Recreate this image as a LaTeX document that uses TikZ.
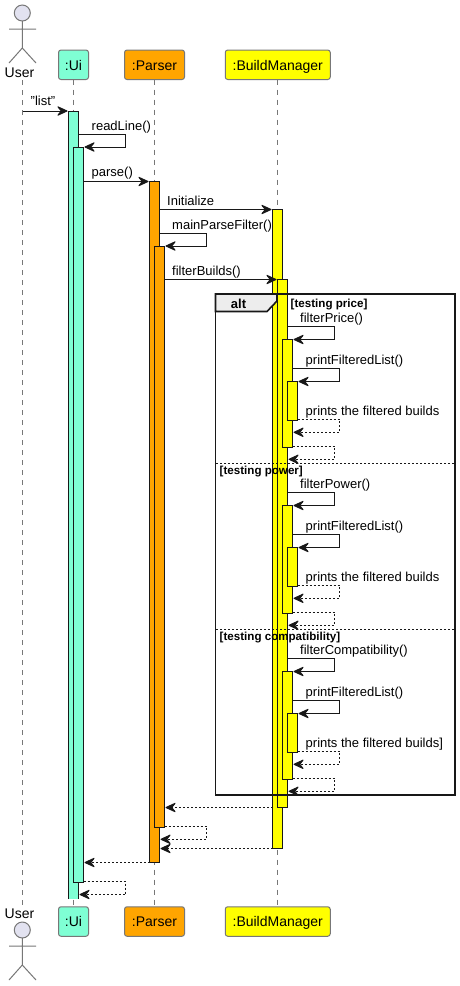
\documentclass[tikz,border=0pt]{standalone}
\usepackage{fontspec}
\setmainfont{Liberation Sans}
\usetikzlibrary{arrows.meta}
\definecolor{uicol}{HTML}{7FFFD4}
\definecolor{parsecol}{HTML}{FFA500}
\definecolor{bmcol}{HTML}{FFFF00}
\definecolor{actcol}{HTML}{E2E2F0}
\definecolor{edgecol}{HTML}{777777}
\definecolor{inkcol}{HTML}{181818}
\tikzset{
  part/.style={draw=edgecol,line width=1pt,rounded corners=2.5pt,inner sep=0pt,outer sep=0pt,minimum height=29.5pt,font=\fontsize{14}{16}\selectfont,text height=10.5pt,text depth=0pt},
  barbox/.style={draw=inkcol,line width=1pt,minimum width=10pt,inner sep=0pt,outer sep=0pt},
  life/.style={draw=edgecol,line width=0.8pt,dash pattern=on 5pt off 5pt},
  msg/.style={draw=inkcol,line width=1pt,-{Stealth[length=12pt,width=11pt,inset=4.5pt,fill=inkcol,round]}},
  ret/.style={msg,dash pattern=on 2pt off 2pt},
  lbl/.style={inner sep=0pt,anchor=base west,font=\fontsize{13}{15}\selectfont},
  guard/.style={inner sep=0pt,anchor=base west,font=\fontsize{11.6}{14}\selectfont\bfseries},
  actorline/.style={draw=edgecol,line width=1pt,fill=actcol},
  framel/.style={draw=inkcol,line width=1.6pt},
  divider/.style={draw=inkcol,line width=0.8pt,dash pattern=on 2pt off 2pt},
}
\newcommand{\actbar}[5]{\node[barbox,fill=#5,minimum height={(#4)-(#3)}] (#1) at (#2,{((#3)+(#4))/2}) {};}
\newcommand{\actorfig}[1]{%
  \draw[actorline] (22.3,#1) circle (8pt);
  \draw[actorline,fill=none] (22.3,#1+8) -- (22.3,#1+35) (9,#1+16) -- (36,#1+16)
    (9,#1+50) -- (22.3,#1+35) -- (36,#1+50);}
\begin{document}
\begin{tikzpicture}[x=1pt,y=-1pt]
\useasboundingbox (0,0) rectangle (460,986);
\fill[white] (0,0) rectangle (460,986);
% participants
\node[inner sep=0pt,anchor=base,font=\fontsize{14}{16}\selectfont] (usr) at (19.5,77) {User};
\node[inner sep=0pt,anchor=base,font=\fontsize{14}{16}\selectfont] (usrb) at (19.5,918.5) {User};
\node[part,fill=uicol,minimum width=30pt] (ui) at (73.5,64.75) {:Ui};
\node[part,fill=parsecol,minimum width=60pt] (pa) at (154.5,64.75) {:Parser};
\node[part,fill=bmcol,minimum width=105pt] (bm) at (277.75,64.75) {:BuildManager};
\node[part,fill=uicol,minimum width=30pt] (uib) at (73.5,921.5) {:Ui};
\node[part,fill=parsecol,minimum width=60pt] (pab) at (154.5,921.5) {:Parser};
\node[part,fill=bmcol,minimum width=105pt] (bmb) at (277.75,921.5) {:BuildManager};
\actorfig{13}
\actorfig{930}
% lifelines
\coordinate (ustart) at (22.5,111);
\draw[life] (22.5,80) -- (22.5,906);
\draw[life] (ui.south) -- (uib.north);
\draw[life] (pa.south) -- (pab.north);
\draw[life] (277.5,79.5) -- (277.5,906.75);
% activation bars
\node[inner sep=0pt,outer sep=0pt,fill=uicol,minimum width=10pt,minimum height=788pt] (a1) at (73.5,505) {};
\draw[inkcol,line width=1pt] (a1.south west) -- (a1.north west) -- (a1.north east) -- (a1.south east);
\actbar{a2}{78.5}{147}{882.5}{uicol}
\actbar{p1}{154.5}{181.5}{862.5}{parsecol}
\actbar{p2}{159.5}{246}{827.5}{parsecol}
\actbar{b1}{277.5}{209.5}{848.5}{bmcol}
\actbar{b2}{282.5}{279.5}{807.5}{bmcol}
\foreach \o/\k in {0/x,166/y,332/z}{
  \actbar{c\k}{287.5}{339.5+\o}{447.3+\o}{bmcol}
  \actbar{d\k}{292.5}{381.5+\o}{420.3+\o}{bmcol}
}
% alt frame
\draw[framel,fill=black!7] (215.5,294) -- (277,294) -- (277,301) -- (267,311.5) -- (215.5,311.5) -- cycle;
\draw[framel] (215.5,294) rectangle (455,795);
\node[inner sep=0pt,anchor=base,font=\fontsize{13}{15}\selectfont\bfseries] (altl) at (238.5,308) {alt};
\draw[divider] (216,463.3) -- (455,463.3);
\draw[divider] (216,629.3) -- (455,629.3);
\node[guard] (g1) at (290.5,307) {[testing price]};
\node[guard] (g2) at (219.5,474) {[testing power]};
\node[guard] (g3) at (219.5,640) {[testing compatibility]};
% top-level messages
\draw[msg] (ustart) -- ([xshift=-1pt]a1.north west);
\node[lbl] at (30.5,105) {"list"};
\draw[msg] (78.5,134.5) -- (125.5,134.5) |- ([xshift=1pt]a2.north east);
\node[lbl] at (91.5,130) {readLine()};
\draw[msg] (a2.east |- p1.north) -- ([xshift=-1pt]p1.north west);
\node[lbl] at (91.5,176.5) {parse()};
\draw[msg] (p1.east |- b1.north) -- ([xshift=-1pt]b1.north west);
\node[lbl] at (167,205) {Initialize};
\draw[msg] (159.5,233.5) -- (206.5,233.5) |- ([xshift=1pt]p2.north east);
\node[lbl] at (172,229) {mainParseFilter()};
\draw[msg] (p2.east |- b2.north) -- ([xshift=-1pt]b2.north west);
\node[lbl] at (172,275) {filterBuilds()};
% inner messages
\foreach \o/\k/\fn/\pr in {0/x/{filterPrice()}/{prints the filtered builds},166/y/{filterPower()}/{prints the filtered builds},332/z/{filterCompatibility()}/{prints the filtered builds]}}{
  \draw[msg] (287.5,326.4+\o) -- (334.5,326.4+\o) |- ([xshift=1pt]c\k.north east);
  \node[lbl] at (300,322+\o) {\fn};
  \draw[msg] (292.5,368.4+\o) -- (339.5,368.4+\o) |- ([xshift=1pt]d\k.north east);
  \node[lbl] at (305.5,364+\o) {printFilteredList()};
  \draw[ret] (297.5,419+\o) -- (339.5,419+\o) |- ([xshift=1pt]c\k.east |- 0,432.3+\o);
  \node[lbl] at (305.5,415+\o) {\pr};
  \draw[ret] (292.5,446+\o) -- (334.5,446+\o) |- ([xshift=1pt]b2.east |- 0,459.3+\o);
}
% returns
\draw[ret] (b1.west |- b2.south) -- ([xshift=1pt]p2.east |- b2.south);
\draw[ret] (164.5,826) -- (206.5,826) |- ([xshift=1pt]p1.east |- 0,839.3);
\draw[ret] (b1.south west) -- ([xshift=1pt]p1.east |- b1.south);
\draw[ret] (p1.south west) -- ([xshift=1pt]a2.east |- p1.south);
\draw[ret] (83.5,881.5) -- (125.5,881.5) |- ([xshift=1pt]a1.east |- 0,894.5);
\end{tikzpicture}
\end{document}
